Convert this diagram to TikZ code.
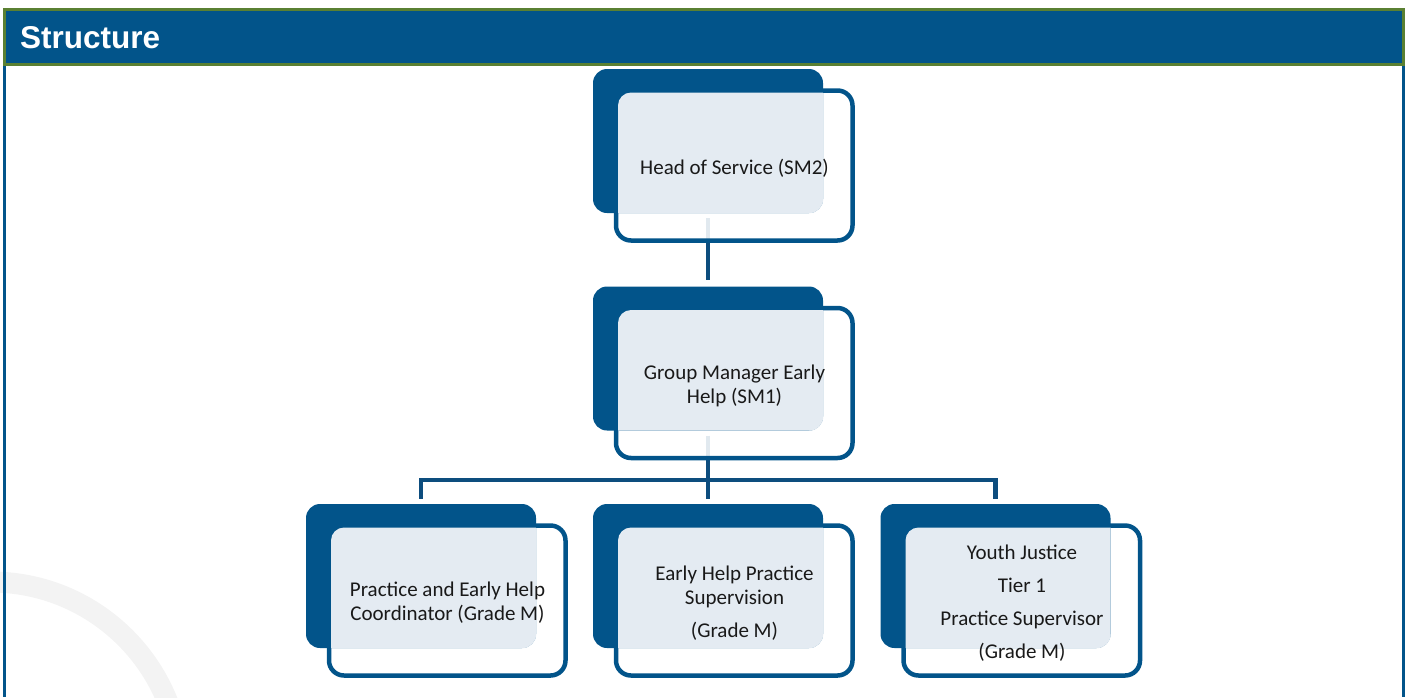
\documentclass[tikz,border=0pt]{standalone}
\usepackage{fontspec}
\setmainfont{Carlito}
\setsansfont{Liberation Sans}
\usepackage{tikz}
\usetikzlibrary{backgrounds}

\definecolor{boxblue}{HTML}{02548A}
\definecolor{linkblue}{HTML}{0D4D7E}
\definecolor{lightfill}{HTML}{E4EBF2}
\definecolor{bandgreen}{HTML}{5A8032}
\definecolor{markgrey}{HTML}{F3F3F3}

\tikzset{
  darkbox/.style={rectangle, fill=boxblue, rounded corners=14pt, inner sep=0pt,
    minimum width=230pt, minimum height=144pt},
  boxframe/.style={draw=boxblue, line width=4.5pt, rounded corners=15pt,
    fill=white, fill opacity=0.88},
  boxtext/.style={inner sep=0pt, align=center, text=black!90,
    font=\fontsize{21}{24}\selectfont},
  link/.style={draw=linkblue, line width=4.5pt}
}

% #1 name, #2 #3 centre of the dark box, #4 text
\newcommand{\orgbox}[4]{%
  \draw[boxframe] (#2-92,#3-50.5) rectangle (#2+144.5,#3+99.5);
  \node[darkbox] (#1) at (#2,#3) {};
  \begin{scope}
    \clip[rounded corners=14pt] (#1.north west) rectangle (#1.south east);
    \fill[lightfill, rounded corners=13pt] (#2-90,#3-48.5) rectangle (#2+142.5,#3+97.5);
  \end{scope}
  \node[boxtext] (#1-text) at (#2+26.5,#3+27) {#4};
}

\begin{document}
\begin{tikzpicture}[x=1pt,y=-1pt]
\useasboundingbox (0,0) rectangle (1410,697);

% header band
\draw[bandgreen, line width=3pt, fill=boxblue] (4.5,9.5) rectangle (1403.5,64.5);
\node[anchor=base west, inner sep=0pt, text=white,
  font=\sffamily\bfseries\fontsize{31.5}{36}\selectfont] (title) at (20,48) {Structure};
\draw[boxblue, line width=3pt] (4.5,66) -- (4.5,697);
\draw[boxblue, line width=3pt] (1403.5,66) -- (1403.5,697);

% top two levels
\orgbox{hos}{708}{141}{Head of Service (SM2)}
\orgbox{gm}{708}{358.5}{Group Manager Early\\Help (SM1)}

% bottom level
\orgbox{pehc}{421}{576}{Practice and Early Help\\Coordinator (Grade M)}
\orgbox{ehps}{708}{576}{Early Help Practice\\Supervision\\[9pt](Grade M)}
\orgbox{yjps}{995.5}{576}{Youth Justice\\[9pt]Tier 1\\[9pt]Practice Supervisor\\[9pt](Grade M)}

\begin{scope}[on background layer]
  % faint watermark arc
  \begin{scope}
    \clip (0,66) rectangle (1410,697);
    \draw[markgrey, line width=21pt] (-9,772) circle [radius=190];
  \end{scope}
  % connectors
  \coordinate (bus) at (708,480);
  \draw[link, shorten <=5pt, shorten >=6pt] (hos) -- (gm);
  \draw[link, shorten <=5pt] (gm) -- (bus);
  \draw[link, shorten <=5pt, shorten >=5pt] (pehc) |- (bus) -| (yjps);
  \draw[link, shorten >=5pt] (bus) -- (ehps);
\end{scope}
\end{tikzpicture}
\end{document}
